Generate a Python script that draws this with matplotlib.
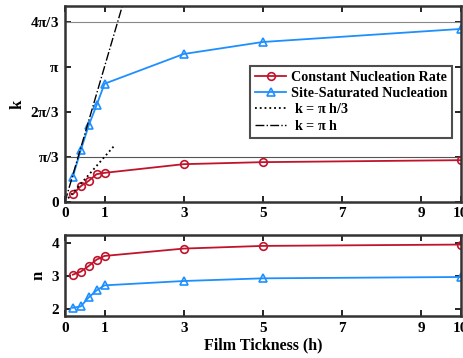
import numpy as np
import matplotlib
matplotlib.use('Agg')
import matplotlib.pyplot as plt

# данные
h = [0.2, 0.4, 0.6, 0.8, 1, 3, 5, 10]
k_cnr = [0.18, 0.365, 0.49, 0.645, 0.675, 0.877, 0.924, 0.97]
k_ssn = [0.589, 1.203, 1.776, 2.25, 2.746, 3.437, 3.716, 4.019]
n_cnr = [3.04, 3.13, 3.30, 3.49, 3.60, 3.82, 3.90, 3.94]
n_ssn = [2.05, 2.09, 2.36, 2.57, 2.72, 2.85, 2.93, 2.97]
xticks = [0, 1, 3, 5, 7, 9, 10]
kticks = [0, np.pi / 3, 2 * np.pi / 3, np.pi, 4 * np.pi / 3]
klabels = ['0', r'$\pi/3$', r'$2\pi/3$', r'$\pi$', r'$4\pi/3$']
nticks = [2, 3, 4]
h_line = [0, 1.27]
h_line2 = [0, 1.6]

red = '#C0142C'
blue = '#1E8FFF'

plt.rcParams['font.family'] = 'Liberation Serif'
plt.rcParams['font.weight'] = 'bold'
plt.rcParams['axes.labelweight'] = 'bold'
plt.rcParams['mathtext.fontset'] = 'custom'
plt.rcParams['mathtext.rm'] = 'Liberation Serif:bold'
plt.rcParams['mathtext.it'] = 'Liberation Serif:bold'
plt.rcParams['font.size'] = 11

fig = plt.figure(figsize=(4.64, 3.58), dpi=100)
ax1 = fig.add_axes([0.140, 0.436, 0.853, 0.547])
ax2 = fig.add_axes([0.140, 0.117, 0.853, 0.226])

for ax in (ax1, ax2):
    for s in ax.spines.values():
        s.set_linewidth(1.8)
        s.set_color('#333333')
    ax.tick_params(direction='in', top=True, right=True, width=1.2, length=4,
                   labelsize=11, pad=4)
    ax.set_xlim(0, 10)
    ax.set_xticks(xticks)

ax1.axhline(np.pi / 3, color='#555555', lw=0.8)
ax1.axhline(4 * np.pi / 3, color='#888888', lw=0.8)

ax1.plot(h, k_cnr, '-o', color=red, mfc='none', ms=5.5, lw=1.3, mew=1.2,
         label='Constant Nucleation Rate')
ax1.plot(h, k_ssn, '-^', color=blue, mfc='none', ms=6, lw=1.3, mew=1.2,
         label='Site-Saturated Nucleation')
ax1.plot(h_line, [np.pi * v / 3 for v in h_line], ':', color='black', lw=1.3,
         label=r' k = $\pi$ h/3')
ax1.plot(h_line2, [np.pi * v for v in h_line2], '-.', color='black', lw=1.0,
         label=r' k = $\pi$ h')
ax1.set_ylim(0, 4.55)
ax1.set_yticks(kticks)
ax1.set_yticklabels(klabels)
ax1.set_ylabel('k', fontsize=12, labelpad=3)

leg = ax1.legend(loc='upper right', bbox_to_anchor=(0.985, 0.71),
                 fontsize=10.2, frameon=True, fancybox=False,
                 borderpad=0.35, labelspacing=0.2, handlelength=2.2,
                 handletextpad=0.3, borderaxespad=0.2)
leg.get_frame().set_edgecolor('#222222')
leg.get_frame().set_linewidth(1.5)

ax2.plot(h, n_cnr, '-o', color=red, mfc='none', ms=5.5, lw=1.3, mew=1.2)
ax2.plot(h, n_ssn, '-^', color=blue, mfc='none', ms=6, lw=1.3, mew=1.2)
ax2.set_ylim(1.8, 4.22)
ax2.set_yticks(nticks)
ax2.set_ylabel('n', fontsize=12, labelpad=4)
ax2.set_xlabel('Film Tickness (h)', fontsize=11.5, labelpad=2)

fig.savefig('out.png', dpi=100)
